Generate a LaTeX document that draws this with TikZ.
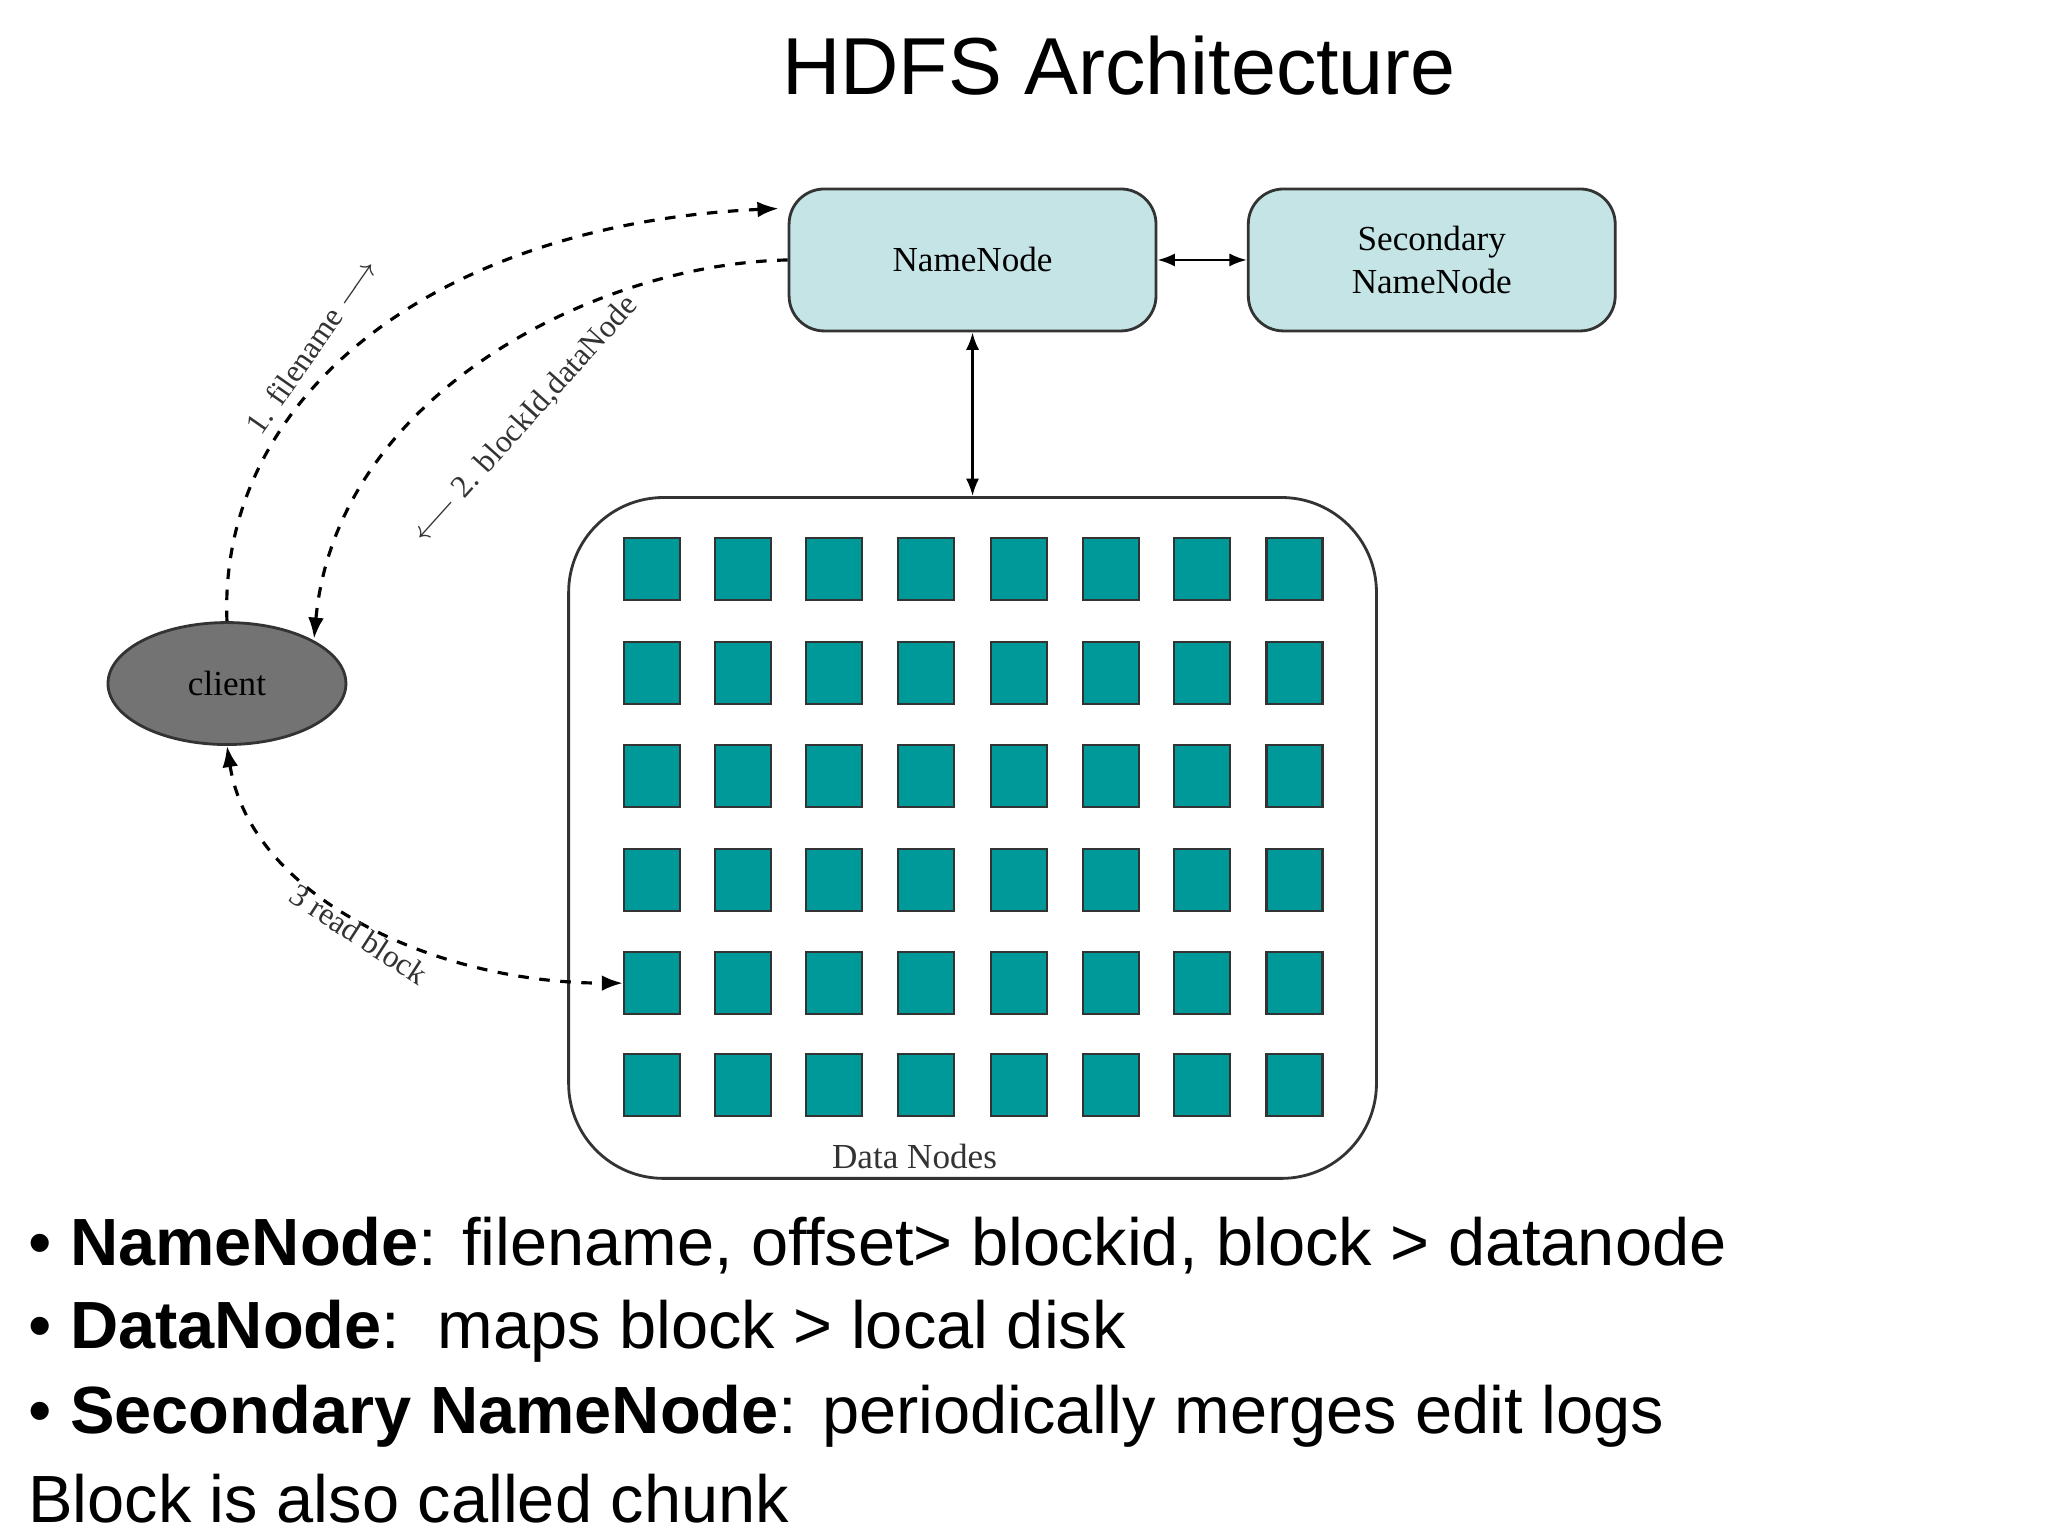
\documentclass[tikz,border=0pt]{standalone}
\usepackage{fontspec}
\setmainfont{Liberation Serif}
\newfontfamily\sans{Liberation Sans}
\usetikzlibrary{shapes.geometric,arrows.meta}
\begin{document}
\begin{tikzpicture}[x=0.013196cm,y=-0.013196cm,
  box/.style={draw=black!80,fill=boxc,rounded corners=10pt,line width=0.8pt,font=\fontsize{10}{12}\selectfont,align=center},
  blk/.style={draw=black!80,fill=blkc,minimum width=0.56cm,minimum height=0.62cm,inner sep=0,line width=0.6pt},
  dsh/.style={dashed,line width=0.9pt,-{Latex[length=6pt]}},
  lbl/.style={font=\fontsize{9}{10}\selectfont,text=black!80},
  bul/.style={font=\sans\fontsize{19}{22}\selectfont,anchor=west}]
\definecolor{boxc}{HTML}{C4E4E6}
\definecolor{blkc}{HTML}{00999A}
\useasboundingbox (0,0) rectangle (1552,1164);
\fill[white] (0,0) rectangle (1552,1164);
\node[font=\sans\fontsize{23}{28}\selectfont] (title) at (848,50) {HDFS Architecture};
\node[box,minimum width=3.67cm,minimum height=1.42cm] (nn) at (737,197) {NameNode};
\node[box,minimum width=3.67cm,minimum height=1.42cm] (snn) at (1085,197) {Secondary\\NameNode};
\node[draw=black!80,rounded corners=0.95cm,line width=0.8pt,minimum width=8.08cm,minimum height=6.81cm] (dn) at (737,635) {};
\node[lbl,font=\fontsize{10}{12}\selectfont] (dnl) at (693,876) {Data Nodes};
\foreach \r/\y in {1/431,2/510,3/588,4/667,5/745,6/822}{
  \foreach \c/\x in {1/494,2/563,3/632,4/702,5/772,6/842,7/911,8/981}{
    \node[blk] (b\r\c) at (\x,\y) {};
  }}
\node[ellipse,draw=black!80,fill=black!55,minimum width=2.38cm,minimum height=1.22cm,line width=0.8pt,font=\fontsize{10}{12}\selectfont] (cl) at (172,518) {client};
\draw[{Latex[length=5pt]}-{Latex[length=5pt]},line width=0.7pt] (nn) -- (snn);
\draw[{Latex[length=5pt]}-{Latex[length=5pt]},line width=0.7pt] (nn) -- (dn);
\coordinate (nnin) at (590,158);
\draw[dsh] (cl.north) .. controls (165,300) and (330,170) .. (nnin);
\draw[dsh] (nn.west) .. controls (450,200) and (255,300) .. (238,484);
\draw[dsh,{Latex[length=6pt]}-{Latex[length=6pt]}] (cl.south) .. controls (190,680) and (330,745) .. (b51.west);
\node[lbl,rotate=55] (l1) at (236,262) {1. filename $\longrightarrow$};
\node[lbl,rotate=48] (l2) at (398,318) {$\longleftarrow$ 2. blockId,dataNode};
\node[lbl,rotate=-33] (l3) at (272,708) {3 read block};
\node[bul] (t1) at (12,944) {\textbullet\ \textbf{NameNode}: filename, offset> blockid, block > datanode};
\node[bul] (t2) at (12,1009) {\textbullet\ \textbf{DataNode}:\ \ maps block > local disk};
\node[bul] (t3) at (12,1073) {\textbullet\ \textbf{Secondary NameNode}: periodically merges edit logs};
\node[bul] (t4) at (12,1136) {Block is also called chunk};
\end{tikzpicture}
\end{document}
